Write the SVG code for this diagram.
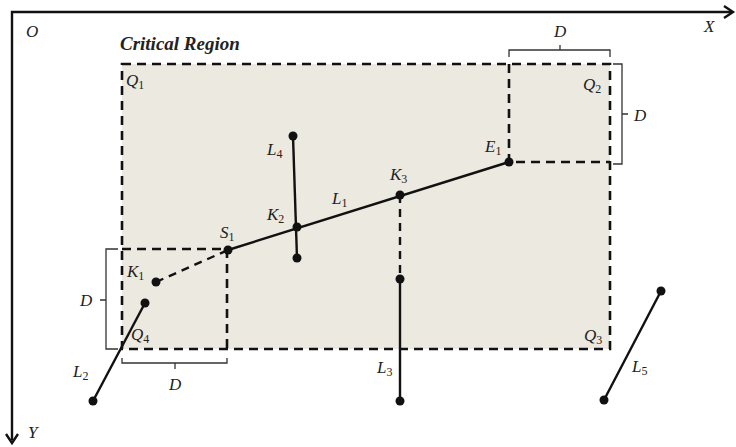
<svg xmlns="http://www.w3.org/2000/svg" width="736" height="447" viewBox="0 0 736 447">
<style>
.lbl{font-family:"Liberation Serif","DejaVu Serif",serif;font-style:italic;font-size:17px;fill:#222}
.sub{font-size:12px;font-style:normal}
.dash{fill:none;stroke:#111;stroke-width:2.6;stroke-dasharray:9,6}
.seg{stroke:#111;stroke-width:2.4;fill:none}
.br{fill:none;stroke:#333;stroke-width:1.3}
.pt{fill:#111}
</style>
<g id="axes">
<path d="M12,440 V12 H732" fill="none" stroke="#111" stroke-width="2.4"/>
<path d="M724,6 L733,12 L724,18" fill="none" stroke="#111" stroke-width="2.4"/>
<path d="M6,434 L12,443 L18,434" fill="none" stroke="#111" stroke-width="2.4"/>
<text class="lbl" x="26" y="37">O</text>
<text class="lbl" x="704" y="32">X</text>
<text class="lbl" x="28" y="438">Y</text>
</g>
<g id="region">
<rect x="122" y="64" width="488" height="285" fill="#ECE9E0"/>
<rect x="122" y="64" width="488" height="285" class="dash"/>
<path d="M509,64 V162 H610" class="dash"/>
<path d="M122,249 H227 V349" class="dash"/>
<text x="120" y="50" font-family="Liberation Serif,DejaVu Serif,serif" font-weight="bold" font-style="italic" font-size="19" fill="#222">Critical Region</text>
<text class="lbl" x="126" y="86">Q<tspan class="sub" dy="3">1</tspan></text>
<text class="lbl" x="583" y="90">Q<tspan class="sub" dy="3">2</tspan></text>
<text class="lbl" x="584" y="341">Q<tspan class="sub" dy="3">3</tspan></text>
<text class="lbl" x="131" y="340">Q<tspan class="sub" dy="3">4</tspan></text>
</g>
<g id="braces">
<path d="M509,57 V50 H610 V57 M560,50 V45" class="br"/>
<text class="lbl" x="554" y="37">D</text>
<path d="M613,64 H622 V164 H613 M622,114 H628" class="br"/>
<text class="lbl" x="634" y="121">D</text>
<path d="M118,249 H106 V349 H118 M106,300 H100" class="br"/>
<text class="lbl" x="80" y="306">D</text>
<path d="M122,358 V363 H227 V358 M175,363 V369" class="br"/>
<text class="lbl" x="169" y="390">D</text>
</g>
<g id="connectors">
<line x1="228" y1="250" x2="509" y2="162" class="seg"/>
<line x1="156" y1="282" x2="228" y2="250" class="seg" stroke-dasharray="8,6"/>
<line x1="293" y1="136" x2="297" y2="258" class="seg"/>
<line x1="400" y1="195" x2="400" y2="279" class="seg" stroke-dasharray="8,6"/>
<line x1="400" y1="279" x2="400" y2="401" class="seg"/>
<line x1="93" y1="401" x2="145" y2="303" class="seg"/>
<line x1="604" y1="400" x2="661" y2="291" class="seg"/>
</g>
<g id="points">
<circle cx="509" cy="162" r="4.5" class="pt"/>
<circle cx="228" cy="250" r="4.5" class="pt"/>
<circle cx="297" cy="227" r="4.5" class="pt"/>
<circle cx="400" cy="195" r="4.5" class="pt"/>
<circle cx="293" cy="136" r="4.5" class="pt"/>
<circle cx="297" cy="258" r="4.5" class="pt"/>
<circle cx="156" cy="282" r="4.5" class="pt"/>
<circle cx="145" cy="303" r="4.5" class="pt"/>
<circle cx="93" cy="401" r="4.5" class="pt"/>
<circle cx="400" cy="279" r="4.5" class="pt"/>
<circle cx="400" cy="401" r="4.5" class="pt"/>
<circle cx="604" cy="400" r="4.5" class="pt"/>
<circle cx="661" cy="291" r="4.5" class="pt"/>
</g>
<g id="labels">
<text class="lbl" x="485" y="152">E<tspan class="sub" dy="3">1</tspan></text>
<text class="lbl" x="220" y="238">S<tspan class="sub" dy="3">1</tspan></text>
<text class="lbl" x="267" y="220">K<tspan class="sub" dy="3">2</tspan></text>
<text class="lbl" x="390" y="180">K<tspan class="sub" dy="3">3</tspan></text>
<text class="lbl" x="332" y="204">L<tspan class="sub" dy="3">1</tspan></text>
<text class="lbl" x="267" y="155">L<tspan class="sub" dy="3">4</tspan></text>
<text class="lbl" x="127" y="277">K<tspan class="sub" dy="3">1</tspan></text>
<text class="lbl" x="73" y="377">L<tspan class="sub" dy="3">2</tspan></text>
<text class="lbl" x="377" y="373">L<tspan class="sub" dy="3">3</tspan></text>
<text class="lbl" x="632" y="372">L<tspan class="sub" dy="3">5</tspan></text>
</g>
</svg>
